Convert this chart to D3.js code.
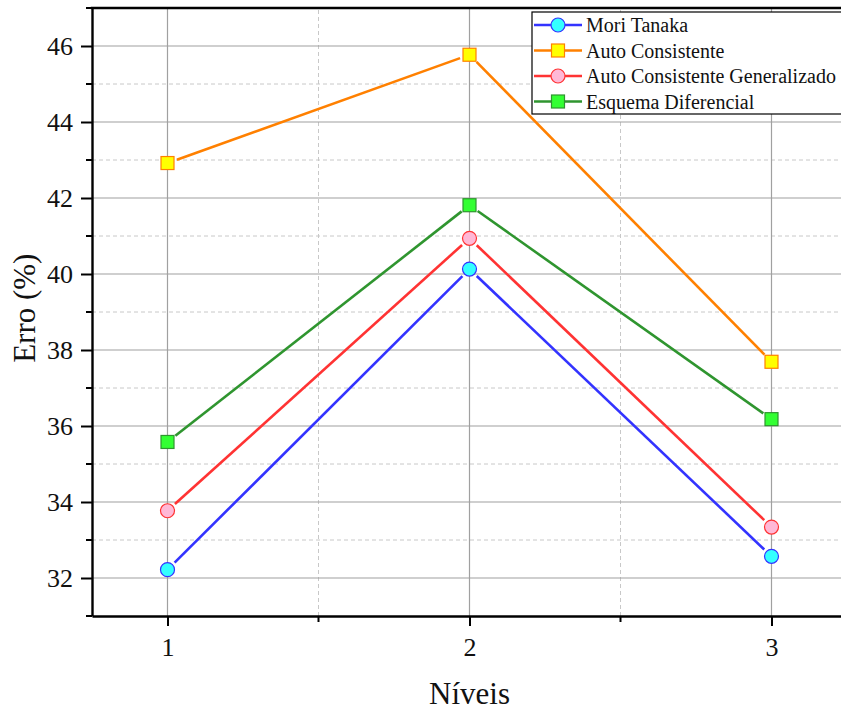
<!DOCTYPE html>
<html>
<head>
<meta charset="utf-8">
<script src="https://cdn.jsdelivr.net/npm/d3@7"></script>
<style>
  body { margin: 0; background: #fff; }
  svg text { font-family: "Liberation Serif", "Times New Roman", serif; fill: #111; }
</style>
</head>
<body>
<div id="chart"></div>
<script>
// data
const levels = [1, 2, 3]
const seriesNames = ["Mori Tanaka", "Auto Consistente", "Auto Consistente Generalizado", "Esquema Diferencial"]
const moriTanaka = [32.22, 40.13, 32.57]
const autoConsistente = [42.92, 45.77, 37.69]
const autoConsGeneralizado = [33.77, 40.94, 33.34]
const esquemaDiferencial = [35.58, 41.81, 36.18]
const yTicks = [32, 34, 36, 38, 40, 42, 44, 46]
const yMinorTicks = [31, 33, 35, 37, 39, 41, 43, 45, 47]
const xMinorTicks = [1.5, 2.5]

const styles = [
  { values: moriTanaka, line: "#3333ff", fill: "#33ffff", stroke: "#3333ff", shape: "circle" },
  { values: autoConsistente, line: "#ff8000", fill: "#ffff00", stroke: "#ff8000", shape: "square" },
  { values: autoConsGeneralizado, line: "#ff3333", fill: "#ffb8d6", stroke: "#ff3333", shape: "circle" },
  { values: esquemaDiferencial, line: "#2f952f", fill: "#33ff33", stroke: "#2f952f", shape: "square" }
]

const W = 841, H = 711
const margin = { left: 92, top: 8, right: -6, bottom: 95 }

const svg = d3.select("#chart").append("svg")
  .attr("width", W)
  .attr("height", H)

const x = d3.scaleLinear().domain([0.75, 3.25]).range([margin.left, W - margin.right])
const y = d3.scaleLinear().domain([31, 47]).range([H - margin.bottom, margin.top])

// grid
const grid = svg.append("g")
grid.selectAll(".ymin").data(yMinorTicks.filter(d => d > 31 && d < 47)).join("line")
  .attr("x1", x.range()[0]).attr("x2", x.range()[1])
  .attr("y1", d => y(d)).attr("y2", d => y(d))
  .attr("stroke", "#c8c8c8").attr("stroke-dasharray", "4,3")
grid.selectAll(".xmin").data(xMinorTicks).join("line")
  .attr("x1", d => x(d)).attr("x2", d => x(d))
  .attr("y1", y.range()[0]).attr("y2", y.range()[1])
  .attr("stroke", "#c8c8c8").attr("stroke-dasharray", "4,3")
grid.selectAll(".ymaj").data(yTicks).join("line")
  .attr("x1", x.range()[0]).attr("x2", x.range()[1])
  .attr("y1", d => y(d)).attr("y2", d => y(d))
  .attr("stroke", "#a0a0a0").attr("stroke-width", 1.2)
grid.selectAll(".xmaj").data(levels).join("line")
  .attr("x1", d => x(d)).attr("x2", d => x(d))
  .attr("y1", y.range()[0]).attr("y2", y.range()[1])
  .attr("stroke", "#a0a0a0").attr("stroke-width", 1.2)

// lines with small gaps around the markers
const gap = 10
styles.forEach(s => {
  const pts = levels.map((l, i) => [x(l), y(s.values[i])])
  const segs = d3.pairs(pts).map(([a, b]) => {
    const dx = b[0] - a[0], dy = b[1] - a[1]
    const len = Math.hypot(dx, dy)
    const ux = dx / len, uy = dy / len
    return [[a[0] + ux * gap, a[1] + uy * gap], [b[0] - ux * gap, b[1] - uy * gap]]
  })
  svg.append("g").selectAll("line").data(segs).join("line")
    .attr("x1", d => d[0][0]).attr("y1", d => d[0][1])
    .attr("x2", d => d[1][0]).attr("y2", d => d[1][1])
    .attr("stroke", s.line).attr("stroke-width", 2.6)
})

function marker (g, s, cx, cy) {
  if (s.shape === "circle") {
    g.append("circle").attr("cx", cx).attr("cy", cy).attr("r", 7)
      .attr("fill", s.fill).attr("stroke", s.stroke).attr("stroke-width", 1.2)
  } else {
    g.append("rect").attr("x", cx - 6.5).attr("y", cy - 6.5).attr("width", 13).attr("height", 13)
      .attr("fill", s.fill).attr("stroke", s.stroke).attr("stroke-width", 1.2)
  }
}

styles.forEach(s => {
  const g = svg.append("g")
  levels.forEach((l, i) => marker(g, s, x(l), y(s.values[i])))
})

// axes
const yAxis = svg.append("g").attr("transform", `translate(${margin.left},0)`)
  .call(d3.axisLeft(y).tickValues(yTicks).tickFormat(d3.format("d")).tickSize(11).tickSizeOuter(0))
yAxis.append("g").selectAll("line").data(yMinorTicks).join("line")
  .attr("x1", -6).attr("x2", 0).attr("y1", d => y(d)).attr("y2", d => y(d))
  .attr("stroke", "#000").attr("stroke-width", 2)

const xAxis = svg.append("g").attr("transform", `translate(0,${H - margin.bottom})`)
  .call(d3.axisBottom(x).tickValues(levels).tickFormat(d3.format("d")).tickSize(10).tickSizeOuter(0))
xAxis.append("g").selectAll("line").data(xMinorTicks).join("line")
  .attr("x1", d => x(d)).attr("x2", d => x(d)).attr("y1", 0).attr("y2", 6)
  .attr("stroke", "#000").attr("stroke-width", 2)

;[yAxis, xAxis].forEach(a => {
  a.attr("font-size", 26).attr("font-family", null)
  a.selectAll(".domain").attr("stroke", "#000").attr("stroke-width", 2.4)
  a.selectAll(".tick line").attr("stroke", "#000").attr("stroke-width", 2)
  a.selectAll(".tick text").attr("fill", "#111")
})
yAxis.selectAll(".tick text").attr("x", -19).attr("dy", "0.34em")
xAxis.selectAll(".tick text").attr("y", 22)

// top frame line
svg.append("line")
  .attr("x1", margin.left - 1.2).attr("x2", W)
  .attr("y1", margin.top).attr("y2", margin.top)
  .attr("stroke", "#000").attr("stroke-width", 2.4)

// axis titles
svg.append("text")
  .attr("x", x(2)).attr("y", 704)
  .style("font-size", "31px")
  .attr("text-anchor", "middle")
  .text("Níveis")
svg.append("text")
  .attr("transform", `translate(35,${y(39.1)}) rotate(-90)`)
  .style("font-size", "31px")
  .attr("text-anchor", "middle")
  .text("Erro (%)")

// legend
const legend = svg.append("g").attr("transform", "translate(532,12)")
legend.append("rect")
  .attr("width", 330).attr("height", 102)
  .attr("fill", "#fff").attr("stroke", "#000").attr("stroke-width", 1.2)
styles.forEach((s, i) => {
  const ly = 13 + i * 25.5
  legend.append("line").attr("x1", 2).attr("x2", 50).attr("y1", ly).attr("y2", ly)
    .attr("stroke", s.line).attr("stroke-width", 2.6)
  marker(legend, s, 26, ly)
  legend.append("text").attr("x", 54).attr("y", ly).attr("dy", "0.35em")
    .style("font-size", "20px").text(seriesNames[i])
})
</script>
</body>
</html>
